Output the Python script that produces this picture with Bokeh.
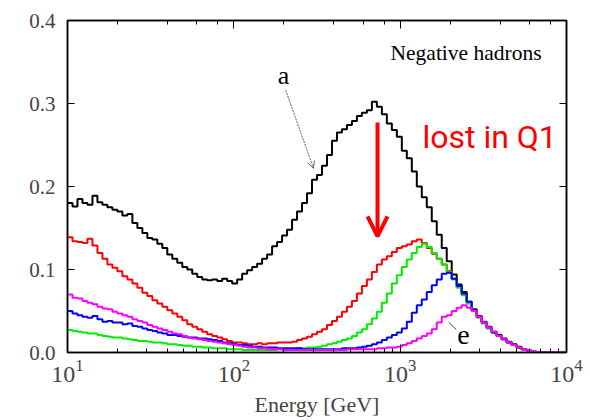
import numpy as np
from bokeh.plotting import figure
from bokeh.embed import file_html
from bokeh.resources import INLINE
from bokeh.models import (Range1d, LogAxis, LinearAxis, FixedTicker, LogTicker,
                          PrintfTickFormatter, CustomJSTickFormatter, Arrow, OpenHead, Label)

# Histogram binning: 100 bins, equal width in log10(E) from 10 GeV to 10 TeV
LOG_E_MIN = 1.0
LOG_BIN_WIDTH = 0.03
N_BINS = 100

# Bin contents for each case (a = black ... e = magenta)
case_a = [0.180, 0.176, 0.185, 0.180, 0.178, 0.189, 0.181, 0.178, 0.175, 0.172,
          0.170, 0.165, 0.167, 0.156, 0.150, 0.144, 0.138, 0.136, 0.131, 0.126,
          0.118, 0.113, 0.108, 0.103, 0.100, 0.095, 0.091, 0.088, 0.087, 0.088,
          0.086, 0.089, 0.086, 0.083, 0.088, 0.095, 0.099, 0.103, 0.107, 0.113,
          0.118, 0.128, 0.133, 0.141, 0.148, 0.160, 0.170, 0.180, 0.192, 0.208,
          0.214, 0.225, 0.238, 0.255, 0.265, 0.269, 0.274, 0.279, 0.285, 0.289,
          0.292, 0.302, 0.296, 0.287, 0.276, 0.268, 0.260, 0.243, 0.234, 0.218,
          0.200, 0.187, 0.175, 0.158, 0.142, 0.126, 0.110, 0.094, 0.082, 0.073,
          0.061, 0.052, 0.044, 0.037, 0.031, 0.025, 0.021, 0.017, 0.013, 0.010,
          0.007, 0.004, 0.002, 0.001, 0.000, 0.000, 0.000, 0.000, 0.000, 0.000]

case_b = [0.139, 0.134, 0.133, 0.132, 0.137, 0.129, 0.120, 0.113, 0.106, 0.102,
          0.098, 0.092, 0.088, 0.083, 0.078, 0.072, 0.068, 0.063, 0.059, 0.055,
          0.051, 0.047, 0.043, 0.039, 0.034, 0.031, 0.028, 0.025, 0.022, 0.020,
          0.018, 0.016, 0.014, 0.012, 0.012, 0.011, 0.010, 0.010, 0.011, 0.010,
          0.011, 0.011, 0.012, 0.012, 0.012, 0.013, 0.015, 0.017, 0.019, 0.022,
          0.025, 0.028, 0.033, 0.038, 0.043, 0.049, 0.055, 0.062, 0.071, 0.080,
          0.088, 0.097, 0.106, 0.112, 0.116, 0.121, 0.126, 0.128, 0.130, 0.134,
          0.136, 0.132, 0.126, 0.119, 0.113, 0.106, 0.098, 0.089, 0.079, 0.070,
          0.060, 0.051, 0.043, 0.036, 0.030, 0.024, 0.020, 0.016, 0.012, 0.009,
          0.006, 0.004, 0.002, 0.001, 0.000, 0.000, 0.000, 0.000, 0.000, 0.000]

case_c = [0.027, 0.026, 0.025, 0.024, 0.023, 0.023, 0.021, 0.020, 0.019, 0.018,
          0.018, 0.017, 0.016, 0.015, 0.014, 0.014, 0.013, 0.012, 0.012, 0.011,
          0.010, 0.010, 0.009, 0.008, 0.008, 0.007, 0.007, 0.006, 0.006, 0.005,
          0.005, 0.005, 0.004, 0.004, 0.004, 0.003, 0.003, 0.003, 0.003, 0.003,
          0.003, 0.003, 0.004, 0.004, 0.004, 0.004, 0.005, 0.005, 0.006, 0.006,
          0.007, 0.008, 0.010, 0.011, 0.013, 0.015, 0.017, 0.020, 0.024, 0.028,
          0.034, 0.041, 0.049, 0.060, 0.071, 0.083, 0.093, 0.103, 0.112, 0.120,
          0.127, 0.131, 0.127, 0.120, 0.113, 0.106, 0.097, 0.088, 0.078, 0.069,
          0.059, 0.050, 0.042, 0.035, 0.029, 0.024, 0.020, 0.016, 0.012, 0.009,
          0.006, 0.004, 0.002, 0.001, 0.000, 0.000, 0.000, 0.000, 0.000, 0.000]

case_d = [0.050, 0.047, 0.045, 0.043, 0.042, 0.044, 0.040, 0.037, 0.038, 0.036,
          0.036, 0.034, 0.035, 0.032, 0.031, 0.029, 0.027, 0.026, 0.024, 0.023,
          0.021, 0.021, 0.020, 0.019, 0.018, 0.018, 0.017, 0.017, 0.016, 0.015,
          0.014, 0.012, 0.011, 0.010, 0.009, 0.009, 0.008, 0.007, 0.007, 0.006,
          0.006, 0.006, 0.005, 0.005, 0.005, 0.005, 0.005, 0.004, 0.004, 0.004,
          0.004, 0.004, 0.004, 0.004, 0.004, 0.005, 0.005, 0.005, 0.006, 0.007,
          0.008, 0.010, 0.012, 0.015, 0.018, 0.021, 0.024, 0.029, 0.037, 0.048,
          0.057, 0.064, 0.073, 0.081, 0.088, 0.095, 0.096, 0.089, 0.080, 0.071,
          0.061, 0.051, 0.043, 0.036, 0.030, 0.024, 0.020, 0.016, 0.012, 0.009,
          0.006, 0.004, 0.002, 0.001, 0.000, 0.000, 0.000, 0.000, 0.000, 0.000]

case_e = [0.070, 0.066, 0.065, 0.062, 0.060, 0.058, 0.055, 0.053, 0.052, 0.049,
          0.047, 0.045, 0.043, 0.040, 0.038, 0.036, 0.033, 0.031, 0.029, 0.027,
          0.025, 0.023, 0.022, 0.020, 0.018, 0.017, 0.016, 0.015, 0.014, 0.013,
          0.012, 0.011, 0.010, 0.009, 0.008, 0.007, 0.006, 0.006, 0.005, 0.005,
          0.004, 0.004, 0.004, 0.003, 0.003, 0.003, 0.003, 0.003, 0.003, 0.003,
          0.003, 0.003, 0.003, 0.003, 0.003, 0.003, 0.004, 0.004, 0.004, 0.004,
          0.004, 0.004, 0.005, 0.005, 0.006, 0.006, 0.007, 0.009, 0.011, 0.014,
          0.017, 0.020, 0.023, 0.028, 0.036, 0.043, 0.045, 0.050, 0.054, 0.057,
          0.054, 0.050, 0.043, 0.036, 0.030, 0.025, 0.020, 0.016, 0.012, 0.009,
          0.006, 0.004, 0.002, 0.001, 0.000, 0.000, 0.000, 0.000, 0.000, 0.000]

series = [(case_a, "black"), (case_b, "#ff0000"), (case_c, "#00ee00"),
          (case_d, "#0000ff"), (case_e, "#ff00ff")]

y_ticks = [0.0, 0.1, 0.2, 0.3, 0.4]

edges = 10 ** (LOG_E_MIN + LOG_BIN_WIDTH * np.arange(N_BINS + 1))

SERIF = "Liberation Serif"

p = figure(width=590, height=420, x_axis_type="log",
           x_range=Range1d(10, 1e4), y_range=Range1d(0, 0.4),
           output_backend="svg", toolbar_location=None,
           min_border_left=67, min_border_right=24,
           min_border_top=20, min_border_bottom=68)
p.background_fill_color = "white"
p.border_fill_color = "white"
p.outline_line_color = "black"
p.outline_line_width = 1.5
p.xgrid.visible = False
p.ygrid.visible = False

for vals, col in series:
    p.step(x=edges, y=list(vals) + [vals[-1]], mode="after",
           line_color=col, line_width=2)

# bottom axis
xa = p.xaxis[0]
xa.axis_label = "Energy [GeV]"
xa.axis_label_text_font = SERIF
xa.axis_label_text_font_style = "normal"
xa.axis_label_text_font_size = "22px"
xa.axis_label_standoff = 7
xa.major_label_text_font = SERIF
xa.major_label_text_font_size = "24px"
xa.major_label_standoff = 7
xa.major_tick_in = 8
xa.major_tick_out = 0
xa.minor_tick_in = 4
xa.minor_tick_out = 0
xa.axis_line_width = 1.5

# left axis
ya = p.yaxis[0]
ya.ticker = FixedTicker(ticks=y_ticks)
ya.formatter = PrintfTickFormatter(format="%.1f")
ya.major_label_text_font = SERIF
ya.major_label_text_font_size = "21px"
ya.major_label_standoff = 12
ya.major_tick_in = 7
ya.major_tick_out = 0
ya.minor_tick_line_color = None
ya.axis_line_width = 1.5

# mirrored axes on top and right, ticks only
blank = CustomJSTickFormatter(code="return '';")
top = LogAxis(ticker=LogTicker(), formatter=blank,
              major_tick_in=8, major_tick_out=0, minor_tick_in=4, minor_tick_out=0,
              major_label_standoff=0, axis_line_width=1.5)
p.add_layout(top, "above")
right = LinearAxis(ticker=FixedTicker(ticks=y_ticks), formatter=blank,
                   major_tick_in=7, major_tick_out=0, minor_tick_line_color=None,
                   major_label_standoff=0, axis_line_width=1.5)
p.add_layout(right, "right")

# annotations
p.add_layout(Label(x=875, y=0.346, text="Negative hadrons", text_font=SERIF,
                   text_font_size="21.5px", text_color="black"))
p.add_layout(Label(x=1361, y=0.237, text="lost in Q1", text_font="Roboto",
                   text_font_size="32px", text_color="#ff0000"))
p.add_layout(Arrow(x_start=731, y_start=0.277, x_end=731, y_end=0.140,
                   line_color="#ff0000", line_width=4,
                   end=OpenHead(size=20, line_color="#ff0000", line_width=4)))
p.add_layout(Label(x=199, y=0.316, text="a", text_font=SERIF, text_align="center",
                   text_font_size="26px", text_color="black"))
p.add_layout(Arrow(x_start=205, y_start=0.316, x_end=301, y_end=0.222,
                   line_color="#333333", line_width=0.8, line_dash="2 1",
                   end=OpenHead(size=7, line_color="#333333", line_width=0.8)))
p.add_layout(Label(x=2404, y=0.010, text="e", text_font=SERIF, text_align="center",
                   text_font_size="28px", text_color="black"))
p.segment(x0=[1958], y0=[0.0365], x1=[2173], y1=[0.0277],
          line_color="black", line_width=0.8)

open("out.html", "w").write(file_html(p, INLINE))
